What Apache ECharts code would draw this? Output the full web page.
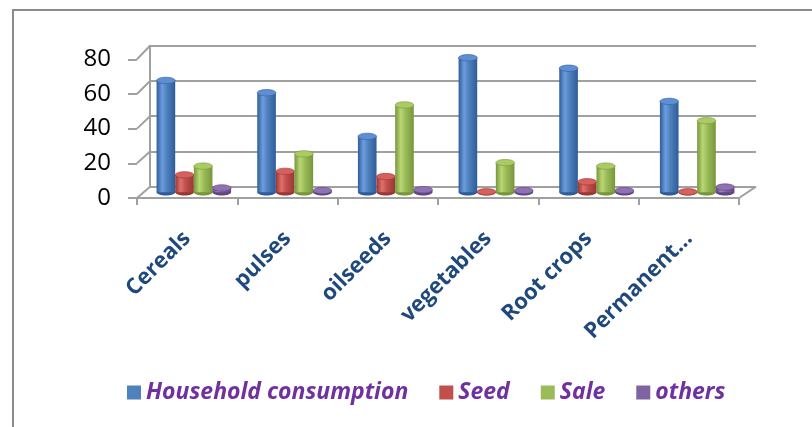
<!DOCTYPE html>
<html>
<head>
<meta charset="utf-8">
<script src="https://cdn.jsdelivr.net/npm/echarts@6/dist/echarts.min.js"></script>
<style>
html,body{margin:0;padding:0;background:#fff;}
#chart{width:812px;height:427px;}
</style>
</head>
<body>
<div id="chart"></div>
<script>
// ---- data ----
const categories = ['Cereals', 'pulses', 'oilseeds', 'vegetables', 'Root crops', 'Permanent…'];
const seriesNames = ['Household consumption', 'Seed', 'Sale', 'others'];
const household = [64, 57, 32, 77, 71, 52];
const seed = [10, 12, 9, 0.3, 6, 0.3];
const sale = [15, 22, 50, 17, 15, 41];
const others = [2.5, 1, 1.5, 1, 1, 3];
const yTickValues = [0, 20, 40, 60, 80];

const yMin = 0, yMax = 80, yStep = 20;

const palette = [
  {base: '#4F81BD', light: '#6C9DE0', dark: '#2F5C98', cap: '#5E8FD3'},
  {base: '#C0504D', light: '#E0706C', dark: '#993734', cap: '#D5605C'},
  {base: '#9BBB59', light: '#B9D774', dark: '#76963A', cap: '#AACB64'},
  {base: '#8064A2', light: '#A085C4', dark: '#5F4682', cap: '#8F72B4'}
];

function cylinder(idx) {
  const c = palette[idx];
  return function (params, api) {
    const ci = api.value(0);
    const v = api.value(1);
    const top = api.coord([ci, v]);
    const bot = api.coord([ci, 0]);
    const band = api.size([1, 0])[0];
    const w = band * 0.185;
    const cx = top[0] - 2 * w + (idx + 0.5) * w;
    const ry = 3.2;
    const h = Math.max(0, bot[1] - top[1]);
    const grad = new echarts.graphic.LinearGradient(0, 0, 1, 0, [
      {offset: 0, color: c.dark},
      {offset: 0.3, color: c.light},
      {offset: 0.55, color: c.base},
      {offset: 1, color: c.dark}
    ]);
    return {
      type: 'group',
      children: [
        {type: 'ellipse', shape: {cx: cx, cy: bot[1], rx: w / 2, ry: ry}, style: {fill: c.dark}},
        {type: 'rect', shape: {x: cx - w / 2, y: top[1], width: w, height: h}, style: {fill: grad}},
        {type: 'ellipse', shape: {cx: cx, cy: top[1], rx: w / 2, ry: ry},
          style: {fill: c.cap, stroke: c.dark, lineWidth: 0.6}}
      ]
    };
  };
}

const allValues = [household, seed, sale, others];
const chart = echarts.init(document.getElementById('chart'), null, {renderer: 'canvas'});

const gridLine = '#A0A0A0';

const option = {
  animation: false,
  textStyle: {fontFamily: 'Open Sans'},
  color: palette.map(p => p.base),
  grid: [
    // front plane (labels, floor front edge)
    {left: 137, right: 73, top: 59.3, bottom: 229},
    // back wall
    {left: 150, right: 56, top: 45.7, bottom: 240.3},
    // mid depth (bars)
    {left: 143.5, right: 64.5, top: 52.5, bottom: 234.7}
  ],
  xAxis: [
    {
      type: 'category', gridIndex: 0, data: categories,
      axisLine: {show: true, lineStyle: {color: gridLine, width: 2}},
      axisTick: {show: true, length: 7, alignWithLabel: false, lineStyle: {color: gridLine, width: 2}},
      axisLabel: {
        rotate: 45, interval: 0, margin: 37,
        color: '#1F497D', fontWeight: 'bold', fontSize: 22, fontFamily: 'Open Sans'
      },
      splitLine: {show: false}
    },
    {type: 'category', gridIndex: 1, data: categories, show: false},
    {type: 'category', gridIndex: 2, data: categories, show: false}
  ],
  yAxis: [
    {
      type: 'value', gridIndex: 0, min: yMin, max: yMax, interval: yStep,
      axisLine: {show: false},
      axisTick: {show: true, length: 9, lineStyle: {color: gridLine, width: 2}},
      axisLabel: {color: '#000', fontSize: 24, margin: 26, fontFamily: 'Open Sans'},
      splitLine: {show: false}
    },
    {
      type: 'value', gridIndex: 1, min: yMin, max: yMax, interval: yStep,
      axisLine: {show: true, lineStyle: {color: gridLine, width: 2}},
      axisTick: {show: false},
      axisLabel: {show: false},
      splitLine: {show: true, lineStyle: {color: gridLine, width: 2}}
    },
    {type: 'value', gridIndex: 2, min: yMin, max: yMax, interval: yStep, show: false,
      splitLine: {show: false}}
  ],
  legend: {
    left: 122, top: 376,
    itemWidth: 14, itemHeight: 14, itemGap: 31, icon: 'rect',
    data: seriesNames,
    textStyle: {color: '#7030A0', fontStyle: 'italic', fontWeight: 'bold', fontSize: 23, fontFamily: 'Open Sans'}
  },
  series: allValues.map((vals, idx) => ({
    name: seriesNames[idx],
    type: 'custom',
    xAxisIndex: 2, yAxisIndex: 2,
    renderItem: cylinder(idx),
    encode: {x: 0, y: 1},
    itemStyle: {color: palette[idx].base},
    data: vals.map((v, i) => [i, v])
  }))
};

chart.setOption(option);

// 3D-ish connectors between front plane and back wall, derived from the axes
function px(axis, idx, v) { const o = {}; o[axis] = idx; return chart.convertToPixel(o, v); }
const band0 = px('xAxisIndex', 0, 1) - px('xAxisIndex', 0, 0);
const band1 = px('xAxisIndex', 1, 1) - px('xAxisIndex', 1, 0);
const xL0 = px('xAxisIndex', 0, 0) - band0 / 2;
const xR0 = px('xAxisIndex', 0, categories.length - 1) + band0 / 2;
const xL1 = px('xAxisIndex', 1, 0) - band1 / 2;
const xR1 = px('xAxisIndex', 1, categories.length - 1) + band1 / 2;
const graphics = [];
yTickValues.forEach(v => {
  graphics.push({
    type: 'line', silent: true,
    shape: {x1: xL0, y1: px('yAxisIndex', 0, v), x2: xL1, y2: px('yAxisIndex', 1, v)},
    style: {stroke: gridLine, lineWidth: 2}
  });
});
graphics.push({
  type: 'line', silent: true,
  shape: {x1: xR0, y1: px('yAxisIndex', 0, 0), x2: xR1, y2: px('yAxisIndex', 1, 0)},
  style: {stroke: gridLine, lineWidth: 2}
});
// outer chart-area border
graphics.push({
  type: 'rect', silent: true,
  shape: {x: 13, y: 10, width: 1000, height: 1000},
  style: {fill: 'none', stroke: '#8C8C8C', lineWidth: 2}
});
chart.setOption({graphic: graphics});
</script>
</body>
</html>
